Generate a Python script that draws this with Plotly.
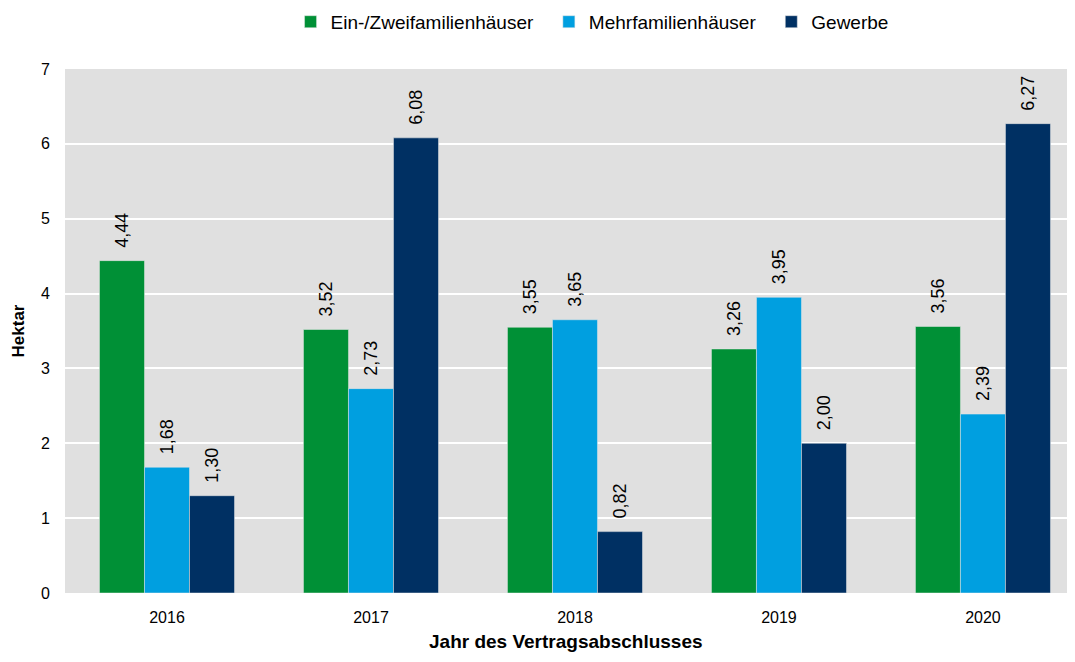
import plotly.graph_objects as go

years = ["2016", "2017", "2018", "2019", "2020"]
ein_zwei = [4.44, 3.52, 3.55, 3.26, 3.56]
mehrfam = [1.68, 2.73, 3.65, 3.95, 2.39]
gewerbe = [1.30, 6.08, 0.82, 2.00, 6.27]

series = [
    ("Ein-/Zweifamilienhäuser\u00a0\u00a0", ein_zwei, "#009036"),
    ("Mehrfamilienhäuser\u00a0\u00a0", mehrfam, "#009fe0"),
    ("Gewerbe", gewerbe, "#003063"),
]

fig = go.Figure()
for name, vals, color in series:
    fig.add_trace(go.Bar(x=years, y=vals, name=name,
                         marker=dict(color=color, line=dict(color="#e6e6e6", width=0.5)),
                         # leading nbsp push the rotated label a bit off the bar
                         texttemplate="\u00a0\u00a0%{y:.2f}", textposition="outside",
                         textangle=-90, cliponaxis=False,
                         textfont=dict(size=19, color="#000000")))

# page body keeps its 8px margin, so the figure is a bit smaller than the window
fig.update_layout(
    width=1059, height=646,
    margin=dict(l=57, r=0, t=61, b=61, autoexpand=False),
    barmode="group", bargap=0.338, bargroupgap=0,
    separators=", ",
    plot_bgcolor="#e0e0e0", paper_bgcolor="white",
    font=dict(family="Liberation Sans, Arial", size=16, color="#000000"),
    legend=dict(orientation="h", x=0.526, xanchor="center", y=1.09, yanchor="middle",
                font=dict(size=19), itemwidth=30, traceorder="normal"),
    showlegend=True,
)
# x title as annotation, kept inside the bottom edge
fig.add_annotation(text="<b>Jahr des Vertragsabschlusses</b>", xref="paper", yref="paper",
                   x=0.5, y=-0.0935, xanchor="center", yanchor="middle",
                   showarrow=False, font=dict(size=19))
fig.update_xaxes(range=[-0.5, 4.412], automargin=False,
                 showgrid=False, ticks="", ticklabelstandoff=13, tickfont=dict(size=16))
fig.update_yaxes(title=dict(text="<b>Hektar</b>", font=dict(size=17), standoff=12),
                 range=[0, 7], dtick=1, automargin=False, showgrid=True, gridcolor="white", gridwidth=2,
                 zeroline=False, ticks="", ticklabelstandoff=14, tickfont=dict(size=16))

fig.write_html("out.html")
